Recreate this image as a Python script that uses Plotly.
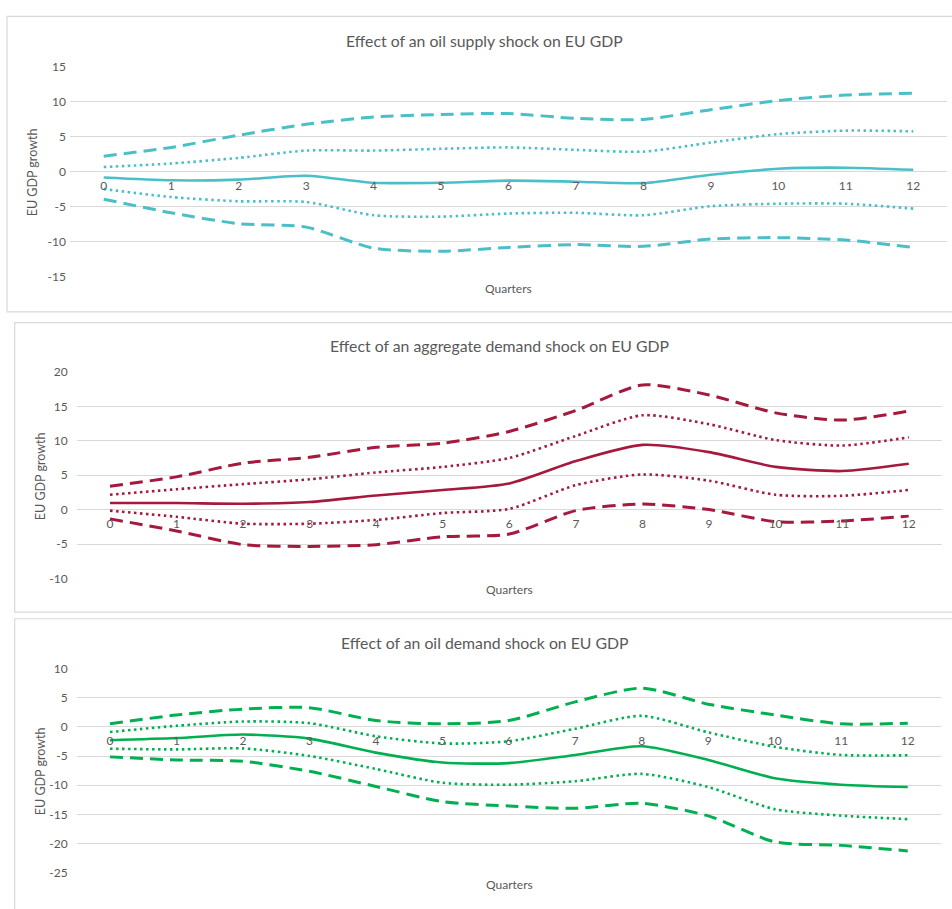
import plotly.graph_objects as go

W, H = 952, 909

quarters = list(range(13))
y_tick_step = 5

# Effect of an oil supply shock on EU GDP
supply_mid = [-0.8, -1.2, -1.1, -0.55, -1.55, -1.55, -1.25, -1.4, -1.6, -0.4, 0.45, 0.6, 0.3]
supply_hi68 = [0.7, 1.2, 2.0, 3.05, 3.05, 3.3, 3.5, 3.15, 2.9, 4.2, 5.4, 5.9, 5.8]
supply_lo68 = [-2.45, -3.6, -4.2, -4.3, -6.2, -6.4, -5.95, -5.85, -6.2, -4.9, -4.55, -4.55, -5.25]
supply_hi95 = [2.25, 3.5, 5.25, 6.8, 7.85, 8.2, 8.35, 7.65, 7.5, 8.9, 10.2, 11.0, 11.25]
supply_lo95 = [-3.9, -5.85, -7.4, -7.9, -10.9, -11.35, -10.8, -10.4, -10.65, -9.6, -9.4, -9.75, -10.8]

# Effect of an aggregate demand shock on EU GDP
agg_mid = [0.95, 0.95, 0.85, 1.1, 2.05, 2.85, 3.8, 7.05, 9.4, 8.35, 6.2, 5.6, 6.65]
agg_hi68 = [2.15, 2.95, 3.7, 4.4, 5.4, 6.2, 7.5, 10.7, 13.7, 12.4, 10.1, 9.3, 10.5]
agg_lo68 = [-0.15, -1.05, -2.05, -2.05, -1.5, -0.5, 0.1, 3.55, 5.1, 4.2, 2.15, 2.0, 2.85]
agg_hi95 = [3.4, 4.75, 6.75, 7.6, 9.05, 9.65, 11.35, 14.4, 18.1, 16.65, 14.05, 13.0, 14.3]
agg_lo95 = [-1.35, -3.1, -5.1, -5.35, -5.1, -3.95, -3.55, -0.15, 0.8, 0.0, -1.75, -1.65, -0.95]

# Effect of an oil demand shock on EU GDP
oil_mid = [-2.27, -1.9, -1.3, -2.0, -4.4, -6.1, -6.2, -4.8, -3.3, -5.65, -8.8, -9.9, -10.3]
oil_hi68 = [-0.87, 0.2, 0.93, 0.65, -1.6, -2.83, -2.45, -0.3, 1.9, -0.93, -3.4, -4.8, -4.85]
oil_lo68 = [-3.73, -3.85, -3.68, -4.97, -7.2, -9.57, -9.9, -9.3, -8.05, -10.3, -14.1, -15.2, -15.8]
oil_hi95 = [0.53, 2.05, 3.06, 3.3, 1.1, 0.53, 1.1, 4.3, 6.65, 3.9, 2.05, 0.53, 0.65]
oil_lo95 = [-5.13, -5.65, -5.9, -7.6, -10.2, -12.8, -13.55, -13.95, -13.1, -15.25, -19.7, -20.3, -21.25]

TEXT = "#595959"
GRID = "#D9D9D9"
FONT = "Lato, 'Open Sans', sans-serif"

panels = [
    dict(title="Effect of an oil supply shock on EU GDP", color="#4BBFC8",
         series=[supply_mid, supply_hi68, supply_lo68, supply_hi95, supply_lo95],
         yrange=(-15, 15), px_x=(70, 947), px_y=(60, 273.3),
         title_xy=(485, 33), quarters_xy=(508, 285), ylab_xy=(32, 167),
         box=(7, 8.5, 960, 309), ystandoff=3),
    dict(title="Effect of an aggregate demand shock on EU GDP", color="#A5193C",
         series=[agg_mid, agg_hi68, agg_lo68, agg_hi95, agg_lo95],
         yrange=(-10, 20), px_x=(76.7, 942), px_y=(370, 580),
         title_xy=(499, 343), quarters_xy=(509, 591), ylab_xy=(40, 476),
         box=(14.7, 320, 960, 614.3), ystandoff=8),
    dict(title="Effect of an oil demand shock on EU GDP", color="#00B050",
         series=[oil_mid, oil_hi68, oil_lo68, oil_hi95, oil_lo95],
         yrange=(-25, 10), px_x=(76.7, 941), px_y=(671.7, 879.3),
         title_xy=(485, 645), quarters_xy=(509, 891), ylab_xy=(40, 776),
         box=(14.7, 621, 960, 920), ystandoff=8),
]

styles = [
    dict(width=2.6, dash="solid"),
    dict(width=2.6, dash="2.5px,3.5px"),
    dict(width=2.6, dash="2.5px,3.5px"),
    dict(width=3.0, dash="13px,7px"),
    dict(width=3.0, dash="13px,7px"),
]

fig = go.Figure()
layout = dict(
    width=W, height=H, margin=dict(l=0, r=0, t=0, b=0),
    paper_bgcolor="white", plot_bgcolor="rgba(0,0,0,0)",
    showlegend=False, font=dict(family=FONT, color=TEXT, size=12),
    annotations=[], shapes=[],
)


def px_to_paper_x(px):
    return px / W


def px_to_paper_y(py):
    return 1 - py / H


for i, p in enumerate(panels, start=1):
    sfx = "" if i == 1 else str(i)
    xa, ya = "x" + sfx, "y" + sfx
    for vals, st in zip(p["series"], styles):
        fig.add_trace(go.Scatter(
            x=quarters, y=vals, mode="lines", xaxis=xa, yaxis=ya,
            line=dict(color=p["color"], width=st["width"], dash=st["dash"],
                      shape="spline", smoothing=0.7),
            hoverinfo="skip",
        ))

    xdom = [px_to_paper_x(p["px_x"][0]), px_to_paper_x(p["px_x"][1])]
    ydom = [px_to_paper_y(p["px_y"][1]), px_to_paper_y(p["px_y"][0])]
    ymin, ymax = p["yrange"]
    yticks = list(range(ymin, ymax + 1, y_tick_step))
    # category axis crosses the value axis at zero
    zero_pos = ydom[0] + (0 - ymin) / (ymax - ymin) * (ydom[1] - ydom[0])

    layout["xaxis" + sfx] = dict(
        domain=xdom, range=[-0.5, 12.5], anchor="free", position=zero_pos,
        tickmode="array", tickvals=quarters, ticktext=[str(q) for q in quarters],
        showgrid=False, zeroline=False, showline=False, ticks="",
        ticklabelstandoff=5, tickfont=dict(size=12, color=TEXT),
        fixedrange=True,
    )
    layout["yaxis" + sfx] = dict(
        domain=ydom, range=[ymin, ymax], anchor=xa,
        tickmode="array", tickvals=yticks, ticktext=[str(v) for v in yticks],
        showgrid=True, gridcolor=GRID, gridwidth=1, zeroline=False,
        showline=False, ticks="", ticklabelstandoff=p["ystandoff"],
        tickfont=dict(size=12, color=TEXT), fixedrange=True,
    )

    tx, ty = p["title_xy"]
    layout["annotations"].append(dict(
        text=p["title"], xref="paper", yref="paper",
        x=px_to_paper_x(tx), y=px_to_paper_y(ty), xanchor="center", yanchor="middle",
        showarrow=False, font=dict(size=15.8, color=TEXT, family=FONT)))
    qx, qy = p["quarters_xy"]
    layout["annotations"].append(dict(
        text="Quarters", xref="paper", yref="paper",
        x=px_to_paper_x(qx), y=px_to_paper_y(qy), xanchor="center", yanchor="middle",
        showarrow=False, font=dict(size=12, color=TEXT, family=FONT)))
    lx, ly = p["ylab_xy"]
    layout["annotations"].append(dict(
        text="EU GDP growth", xref="paper", yref="paper", textangle=-90,
        x=px_to_paper_x(lx), y=px_to_paper_y(ly), xanchor="center", yanchor="middle",
        showarrow=False, font=dict(size=12.5, color=TEXT, family=FONT)))

    bx0, by0, bx1, by1 = p["box"]
    layout["shapes"].append(dict(
        type="rect", xref="paper", yref="paper", layer="below",
        x0=px_to_paper_x(bx0), x1=px_to_paper_x(bx1),
        y0=px_to_paper_y(by1), y1=px_to_paper_y(by0),
        line=dict(color=GRID, width=1.2), fillcolor="rgba(0,0,0,0)"))

fig.update_layout(**layout)
fig.write_html("out.html")
